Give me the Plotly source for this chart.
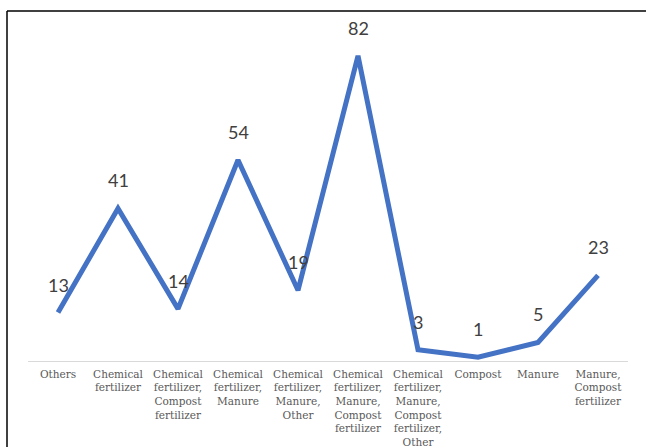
import plotly.graph_objects as go

categories = [
    "Others",
    "Chemical<br>fertilizer",
    "Chemical<br>fertilizer,<br>Compost<br>fertilizer",
    "Chemical<br>fertilizer,<br>Manure",
    "Chemical<br>fertilizer,<br>Manure,<br>Other",
    "Chemical<br>fertilizer,<br>Manure,<br>Compost<br>fertilizer",
    "Chemical<br>fertilizer,<br>Manure,<br>Compost<br>fertilizer,<br>Other",
    "Compost",
    "Manure",
    "Manure,<br>Compost<br>fertilizer",
]
counts = [13, 41, 14, 54, 19, 82, 3, 1, 5, 23]

fig = go.Figure()
fig.add_trace(go.Scatter(
    x=list(range(len(categories))),
    y=counts,
    mode="lines",
    line=dict(color="#4472C4", width=5),
    hoverinfo="skip",
))

for i, v in enumerate(counts):
    fig.add_annotation(
        x=i, y=v, text=str(v), showarrow=False, yshift=28,
        font=dict(family="Lato, Open Sans, sans-serif", size=18, color="#404040"),
    )

# Frame lines along the top and left edge
line_style = dict(color="black", width=1.5)
fig.add_shape(type="line", xref="paper", yref="paper",
              x0=-0.035, x1=1.03, y0=1.0448, y1=1.0448, line=line_style)
fig.add_shape(type="line", xref="paper", yref="paper",
              x0=-0.035, x1=-0.035, y0=1.0448, y1=-0.27, line=line_style)

fig.update_layout(
    width=647, height=447,
    margin=dict(l=28, r=19, t=26, b=86),
    paper_bgcolor="white", plot_bgcolor="white",
    showlegend=False,
    xaxis=dict(
        range=[-0.5, len(categories) - 0.5],
        tickmode="array",
        tickvals=list(range(len(categories))),
        ticktext=categories,
        tickangle=0,
        automargin=False,
        showgrid=False, zeroline=False,
        showline=True, linecolor="#D9D9D9", linewidth=1,
        ticks="",
        ticklabelstandoff=3,
        tickfont=dict(family="DejaVu Serif", size=10.5, color="#595959"),
        fixedrange=True,
    ),
    yaxis=dict(
        range=[0, 90],
        visible=False,
        automargin=False,
        showgrid=False, zeroline=False,
        fixedrange=True,
    ),
)

fig.write_html("out.html")
